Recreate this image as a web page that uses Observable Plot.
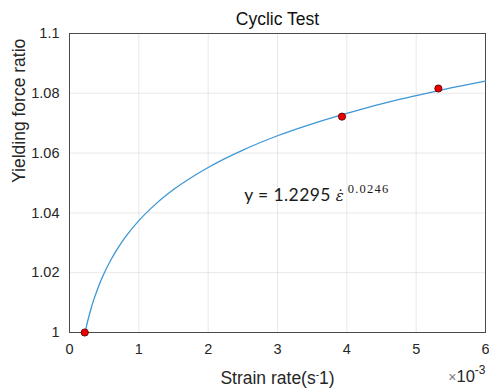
<!DOCTYPE html>
<html><head><meta charset="utf-8">
<script src="https://cdn.jsdelivr.net/npm/d3@7"></script>
<script src="https://cdn.jsdelivr.net/npm/@observablehq/plot@0.6"></script>
<style>body{margin:0;background:#fff} svg{display:block}</style>
</head><body><div id="chart"></div>
<script>
// ---- data ----
const xTicks = [0, 1, 2, 3, 4, 5, 6];
const yTicks = [1, 1.02, 1.04, 1.06, 1.08, 1.1];
const yTickLabels = ["1", "1.02", "1.04", "1.06", "1.08", "1.1"];
// fitted curve (strain rate ×10^-3, yielding force ratio)
const curveX = [0.22, 0.23, 0.25, 0.26, 0.3, 0.35, 0.4, 0.45, 0.5, 0.6, 0.7, 0.8, 1.0, 1.25, 1.5, 2.0, 2.5, 3.0, 3.5, 4.0, 4.5, 5.0, 5.5, 6.0];
const curveY = [0.9995, 1.0006, 1.0026, 1.0036, 1.0071, 1.0110, 1.0142, 1.0172, 1.0198, 1.0244, 1.0283, 1.0317, 1.0374, 1.0431, 1.0478, 1.0552, 1.0610, 1.0658, 1.0698, 1.0733, 1.0765, 1.0792, 1.0818, 1.0841];
// test points
const testX = [0.22, 3.93, 5.32];
const testY = [1.0, 1.0722, 1.0816];
const titleText = "Cyclic Test";
const yLabel = "Yielding force ratio";
const xLabel = "Strain rate(s-1)";
const xExpText = "×10-3";
const eqText = "y = 1.2295 ε̇ 0.0246";
const eqX = 2.52, eqY = 1.046;

const curve = curveX.map((x, i) => ({x, y: curveY[i]}));
const pts = testX.map((x, i) => ({x, y: testY[i]}));

const sans = "'Liberation Sans', Arial, Helvetica, sans-serif";

const chart = Plot.plot({
  width: 489, height: 390,
  marginLeft: 69, marginRight: 4, marginTop: 33, marginBottom: 58,
  style: {fontFamily: sans, fontSize: "14.5px", color: "#262626", background: "#fff", overflow: "visible"},
  x: {domain: [0, 6], ticks: xTicks, tickSize: 0, tickPadding: 11, label: null, grid: true, tickFormat: d => String(d)},
  y: {domain: [1, 1.1], ticks: yTicks, tickSize: 0, tickPadding: 10, label: null, grid: true,
      tickFormat: d => yTickLabels[yTicks.indexOf(d)]},
  marks: [
    Plot.frame({stroke: "#4a4a4a", strokeWidth: 1}),
    Plot.line(curve, {x: "x", y: "y", stroke: "#3d97d6", strokeWidth: 1.3, curve: "monotone-x"}),
    Plot.dot(pts, {x: "x", y: "y", r: 3.6, fill: "#ee0000", stroke: "#5a0000", strokeWidth: 0.9}),
    Plot.text([titleText], {frameAnchor: "top", lineAnchor: "middle", dy: -14, fontSize: 17.5, fill: "#111"}),
    Plot.text([yLabel], {frameAnchor: "left", lineAnchor: "middle", dx: -50, rotate: -90, fontSize: 17.5, fill: "#262626"}),
    Plot.text([xLabel], {frameAnchor: "bottom", lineAnchor: "middle", dy: 46, fontSize: 17.5, fill: "#262626"}),
    Plot.text([xExpText], {frameAnchor: "bottom-right", lineAnchor: "middle", textAnchor: "end", dy: 44, dx: 0, fontSize: 16.5, fill: "#262626"}),
    Plot.text([eqText], {x: () => eqX, y: () => eqY, lineAnchor: "middle", textAnchor: "start", fontSize: 17.5, fill: "#1a1a1a"})
  ]
});
document.getElementById("chart").append(chart);

const svg = d3.select(chart);
// tick label size
svg.selectAll("g[aria-label$='tick label'], g[aria-label$='axis']").attr("font-size", "14.5px");
svg.selectAll("g[aria-label$='tick label'] text, g[aria-label$='axis'] text").attr("font-size", "14.5px");

function findText(str) {
  return svg.selectAll("text").filter(function() { return this.textContent === str; });
}
// x label with superscript minus
findText(xLabel).each(function() {
  const t = d3.select(this); t.text(null);
  t.append("tspan").text("Strain rate(s");
  t.append("tspan").attr("dy", "-6").attr("font-size", "10px").text("-");
  t.append("tspan").attr("dy", "6").text("1)");
});
// ×10^-3
findText(xExpText).each(function() {
  const t = d3.select(this); t.text(null);
  t.append("tspan").attr("fill", "#777").attr("font-size", "14px").text("×");
  t.append("tspan").text("10");
  t.append("tspan").attr("dy", "-8").attr("font-size", "12px").text("-3");
});
// equation
findText(eqText).each(function() {
  const t = d3.select(this); t.text(null).attr("font-family", "Lato, 'Open Sans', sans-serif");
  t.append("tspan").attr("letter-spacing", "0.4").text("y = 1.2295 ");
  t.append("tspan").attr("font-family", "'DejaVu Serif', 'Liberation Serif', serif").attr("font-style", "italic").attr("font-size", "15px").text("ε̇");
  t.append("tspan").attr("dx", "4").attr("dy", "-8").attr("font-size", "12.5px").attr("letter-spacing", "1.2").attr("font-family", "'Liberation Serif', serif").text("0.0246");
});
</script>
</body></html>
